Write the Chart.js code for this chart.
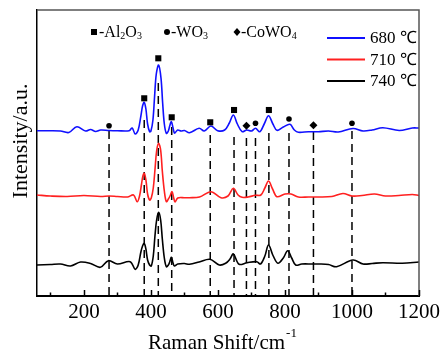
<!DOCTYPE html>
<html>
<head>
<meta charset="utf-8">
<script src="https://cdn.jsdelivr.net/npm/chart.js@4/dist/chart.umd.min.js"></script>
<style>
html,body{margin:0;padding:0;background:#fff;}
canvas{display:block;}
</style>
</head>
<body>
<canvas id="c" width="444" height="354"></canvas>
<script>
// ---- data (Raman shift in cm^-1, intensity in arbitrary units with offsets) ----
const blueX = [60,100,130,155,179,205,220,235,250,275,300,335,344,353,362,370,375,380,385,390,396,400,406,411,416,423,430,435,440,446,452,456,461,466,470,474,480,490,500,515,544,559,579,599,620,634,646,658,672,686,700,712,725,738,751,764,776,795,815,828,840,870,900,930,959,1003,1033,1060,1092,1141,1180,1200];
const blueY = [165.3,165.3,165,163.5,169.3,165,166.5,164.5,166,165.5,165.3,165.3,168,162,166,180,190,193.7,187,172,164.3,165,176,200,222,231,218,193,172,162.7,165,170,174.3,168,163,164,166,165,165.5,163.3,167.7,165,170,165.3,166,173,181,172,164.3,166,165,167.7,164.3,172,180.3,172,165.7,169,171.7,166,163.7,164.3,164.3,165,164,167.5,165,166,168.3,165.5,168,168];

const redX = [60,100,150,200,250,275,300,330,348,359,366,372,376,380,385,390,396,401,407,412,417,423,429,434,440,446,452,457,463,468,472,480,500,515,545,579,609,630,646,660,672,690,712,728,740,751,763,776,800,818,840,870,900,940,973,1000,1030,1067,1100,1140,1180,1200];
const redY = [101,100,99.5,100.5,99.5,100,99.5,99,101,94.3,100,112,120,122.7,116,102,96,98,108,126,145,152.7,146,125,105,94.3,97,100,104.3,98,94,98,98.3,98.3,99,104.3,98.3,100,107.7,101,98.7,99,100.7,101,108,115,107,99.3,102,102,99,99,99,99.5,102.5,100,100.5,102,100,100.5,101.5,100.5];

const blackX = [60,100,130,160,190,220,249,273,300,338,353,362,370,375,380,385,390,396,401,407,412,417,423,429,434,440,446,452,456,461,466,470,480,500,515,544,576,604,623,636,646,663,687,716,727,740,751,765,779,795,808,820,832,850,880,900,930,954,1003,1033,1060,1092,1150,1200];
const blackY = [31,31.5,32,30,34,32.5,28.7,35.3,32,34.3,26.7,31,44,50,52.7,47,36,31,30,40,60,76,83.7,76,57,38,29.3,31,34,38.7,33,30,32,32.5,31.7,34,36.7,31,32.7,37,42,31.7,33.3,34.3,32,40,51,40,32.7,38,45.3,38,31,32,32,32,31.5,29.3,36,32,32.5,33.3,32.7,34];

const seriesLabels = ['680 ℃','710 ℃','740 ℃'];
const seriesColors = ['#1010ff','#ff2020','#000000'];

const squareX = [380,422,462,577,648,752];
const squareY = [197.7,237.7,178.7,173.7,186,186];
const circleX = [275,712,812,1000];
const circleY = [170.3,172.7,177,172.7];
const diamondX = [685,885];
const diamondY = [170.3,170.7];

const dashX   = [275,380,422,462,577,648,685,712,752,812,885,1000];
const dashTop = [165,176,213,169,161,159,158,158,163,163,164,165];

const xTickLabels = [200,400,600,800,1000,1200];
const xMinorTicks = [100,200,300,400,500,600,700,800,900,1000,1100,1200];

// ---- build datasets ----
const zip = (xs, ys) => xs.map((x, i) => ({x, y: ys[i]}));
const dashData = [];
dashX.forEach((x, i) => { dashData.push({x, y: dashTop[i]}, {x, y: 0}, {x, y: null}); });

const curves = [[blueX, blueY], [redX, redY], [blackX, blackY]].map((s, i) => ({
  label: seriesLabels[i],
  data: zip(s[0], s[1]),
  borderColor: seriesColors[i],
  borderWidth: 1.6,
  pointRadius: 0,
  tension: 0.35,
  showLine: true,
  fill: false
}));

const markerDs = (xs, ys, style, r) => ({
  data: zip(xs, ys), showLine: false, pointStyle: style, pointRadius: r,
  pointBackgroundColor: '#000', pointBorderColor: '#000', pointBorderWidth: 0
});

const datasets = [
  markerDs(squareX, squareY, 'rect', 4.3),
  markerDs(circleX, circleY, 'circle', 2.8),
  markerDs(diamondX, diamondY, 'rectRot', 4),
  ...curves,
  {data: dashData, borderColor: '#000', borderWidth: 1.5, borderDash: [8, 5], pointRadius: 0, spanGaps: false, showLine: true, tension: 0}
];

const SERIF = "'Liberation Serif','Times New Roman',serif";

const decor = {
  id: 'decor',
  afterDraw(chart) {
    const ctx = chart.ctx, a = chart.chartArea, xs = chart.scales.x;
    ctx.save();
    // top & right frame
    ctx.strokeStyle = '#555'; ctx.lineWidth = 1.5;
    ctx.beginPath(); ctx.moveTo(a.left, a.top); ctx.lineTo(a.right, a.top); ctx.lineTo(a.right, a.bottom); ctx.stroke();
    // inward ticks on bottom axis
    ctx.strokeStyle = '#000'; ctx.lineWidth = 1.5;
    xMinorTicks.forEach(v => {
      const px = Math.round(xs.getPixelForValue(v)) + 0.5;
      const len = (v % 200 === 0) ? 6 : 3.5;
      ctx.beginPath(); ctx.moveTo(px, a.bottom); ctx.lineTo(px, a.bottom - len); ctx.stroke();
    });
    // phase annotations
    ctx.fillStyle = '#000';
    ctx.textBaseline = 'alphabetic'; ctx.textAlign = 'left';
    const chem = (x, y, parts) => {
      parts.forEach(p => {
        const sub = typeof p === 'object';
        const t = sub ? p.s : p;
        ctx.font = (sub ? '10px ' : '16px ') + SERIF;
        ctx.fillText(t, x, y + (sub ? 2 : 0));
        x += ctx.measureText(t).width;
      });
    };
    const ay = 37;
    ctx.fillRect(91, 29, 6, 6);
    chem(99, ay, ['-Al', {s:'2'}, 'O', {s:'3'}]);
    ctx.beginPath(); ctx.arc(167, 32, 3, 0, Math.PI * 2); ctx.fill();
    chem(171, ay, ['-WO', {s:'3'}]);
    ctx.beginPath(); ctx.moveTo(237, 28); ctx.lineTo(240.5, 32); ctx.lineTo(237, 36); ctx.lineTo(233.5, 32); ctx.closePath(); ctx.fill();
    chem(241, ay, ['-CoWO', {s:'4'}]);
    // legend
    ctx.lineWidth = 2;
    seriesLabels.forEach((lab, i) => {
      const y = 38 + i * 21.5;
      ctx.strokeStyle = seriesColors[i];
      ctx.beginPath(); ctx.moveTo(327, y); ctx.lineTo(365, y); ctx.stroke();
      ctx.font = '17px ' + SERIF;
      ctx.textBaseline = 'middle';
      ctx.fillText(lab, 370, y + 1);
    });
    // axis titles
    ctx.textBaseline = 'alphabetic';
    ctx.font = '21px ' + SERIF;
    const t1 = 'Raman Shift/cm';
    ctx.fillText(t1, 148, 349);
    const w1 = ctx.measureText(t1).width;
    ctx.font = '13px ' + SERIF;
    ctx.fillText('-1', 148 + w1 + 1, 337);
    ctx.save();
    ctx.translate(27, 141); ctx.rotate(-Math.PI / 2);
    ctx.font = '22px ' + SERIF; ctx.textAlign = 'center';
    ctx.fillText('Intensity/a.u.', 0, 0);
    ctx.restore();
    ctx.restore();
  }
};

new Chart(document.getElementById('c'), {
  type: 'line',
  data: {datasets},
  options: {
    responsive: false, animation: false, devicePixelRatio: 1,
    layout: {padding: {left: 0, top: 10, right: 22, bottom: 0}},
    plugins: {legend: {display: false}, tooltip: {enabled: false}},
    scales: {
      x: {
        type: 'linear', min: 60, max: 1200,
        afterBuildTicks: s => { s.ticks = xTickLabels.map(v => ({value: v})); },
        ticks: {font: {family: SERIF, size: 21}, color: '#000', padding: 4, maxRotation: 0, autoSkip: false, callback: v => String(v)},
        grid: {display: false, drawTicks: false},
        border: {display: true, color: '#000', width: 2},
        afterFit: s => { s.height = 58; }
      },
      y: {
        type: 'linear', min: 0, max: 286,
        ticks: {display: false},
        grid: {display: false, drawTicks: false},
        border: {display: true, color: '#000', width: 1.5},
        afterFit: s => { s.width = 37; }
      }
    }
  },
  plugins: [decor]
});
</script>
</body>
</html>
